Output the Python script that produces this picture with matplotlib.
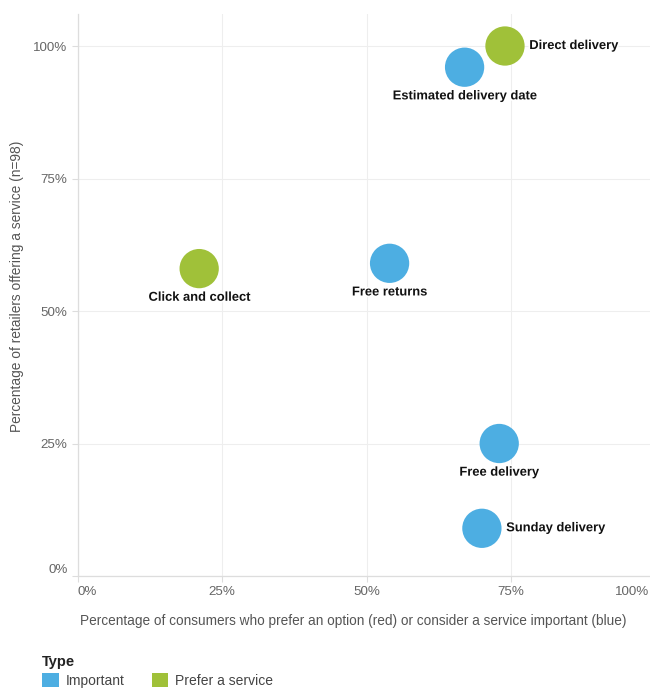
import matplotlib
matplotlib.use("Agg")
import matplotlib.pyplot as plt
import matplotlib.patheffects as pe
import matplotlib.transforms as mtransforms
from matplotlib.patches import Patch
from matplotlib.ticker import PercentFormatter

plt.rcParams["font.family"] = ["Liberation Sans", "DejaVu Sans"]

# delivery services: share of consumers (x) vs share of retailers offering it (y)
services = ["Direct delivery", "Estimated delivery date", "Click and collect",
            "Free returns", "Free delivery", "Sunday delivery"]
consumers = [0.74, 0.67, 0.21, 0.54, 0.73, 0.70]
retailers = [1.00, 0.96, 0.58, 0.59, 0.25, 0.09]
kinds = ["Prefer a service", "Important", "Prefer a service",
         "Important", "Important", "Important"]

type_order = ["Important", "Prefer a service"]
type_colors = {"Important": "#4DAEE2", "Prefer a service": "#A0C139"}
# where each name sits relative to its bubble
label_side = {"Direct delivery": "right", "Sunday delivery": "right"}

W, H = 650, 689
fig = plt.figure(figsize=(W / 100, H / 100), dpi=100)
# plot area runs a few pixels past the right edge of the canvas
ax = fig.add_axes([78 / W, 113 / H, 577 / W, 562 / H])

for name, x, y, k in zip(services, consumers, retailers, kinds):
    ax.scatter(x, y, s=800, color=type_colors[k], edgecolors="none", zorder=3)
    if label_side.get(name) == "right":
        off, ha, va = (17.5, 0), "left", "center"
    else:
        off, ha, va = (0, -21), "center", "center"
    ax.annotate(name, (x, y), xytext=off, textcoords="offset points",
                ha=ha, va=va, fontsize=9.3, fontweight="bold", color="#111111",
                zorder=4, path_effects=[pe.withStroke(linewidth=2.5, foreground="white")])

ax.set_xlim(0, 1.0)
ax.set_ylim(0, 1.0604)
ticks = [0, 0.25, 0.5, 0.75, 1.0]
ax.set_xticks(ticks)
ax.set_yticks(ticks)
ax.xaxis.set_major_formatter(PercentFormatter(1.0, decimals=0))
ax.yaxis.set_major_formatter(PercentFormatter(1.0, decimals=0))
ax.grid(True, color="#eeeeee", linewidth=0.8, zorder=0)
ax.set_axisbelow(True)

for side in ["top", "right"]:
    ax.spines[side].set_visible(False)
for side in ["left", "bottom"]:
    ax.spines[side].set_color("#dddddd")
    ax.spines[side].set_linewidth(0.9)
ax.tick_params(axis="both", colors="#dddddd", labelcolor="#666666",
               labelsize=9.6, length=4.5, width=0.8)
ax.tick_params(axis="x", pad=3)
ax.tick_params(axis="y", pad=3)

# flush first/last labels at the ends of each axis
xl = ax.get_xticklabels()
xl[0].set_horizontalalignment("left")
xl[-1].set_horizontalalignment("right")
xl[-1].set_transform(xl[-1].get_transform()
                     + mtransforms.ScaledTranslation(-6 / 100, 0, fig.dpi_scale_trans))
yl = ax.get_yticklabels()
yl[0].set_verticalalignment("bottom")

fig.text(80 / W, 1 - 621 / H,
         "Percentage of consumers who prefer an option (red) or consider a service important (blue)",
         ha="left", va="center", fontsize=9.8, color="#555555")
fig.text(17 / W, 1 - 286 / H, "Percentage of retailers offering a service (n=98)",
         ha="center", va="center", rotation=90, fontsize=9.9, color="#555555")

handles = [Patch(facecolor=type_colors[t], edgecolor="none") for t in type_order]
leg = fig.legend(handles, type_order, title="Type", loc="upper left",
                 bbox_to_anchor=(42 / W, 1 - 655 / H), ncol=2, frameon=False,
                 fontsize=10, title_fontsize=10.5, alignment="left",
                 handlelength=1.2, handleheight=1.2, handletextpad=0.5,
                 columnspacing=1.95, borderaxespad=0, borderpad=0,
                 labelspacing=0.3)
for t in leg.get_texts():
    t.set_color("#444444")
leg.get_title().set_color("#222222")
leg.get_title().set_fontweight("bold")

fig.savefig("out.png", dpi=100)
